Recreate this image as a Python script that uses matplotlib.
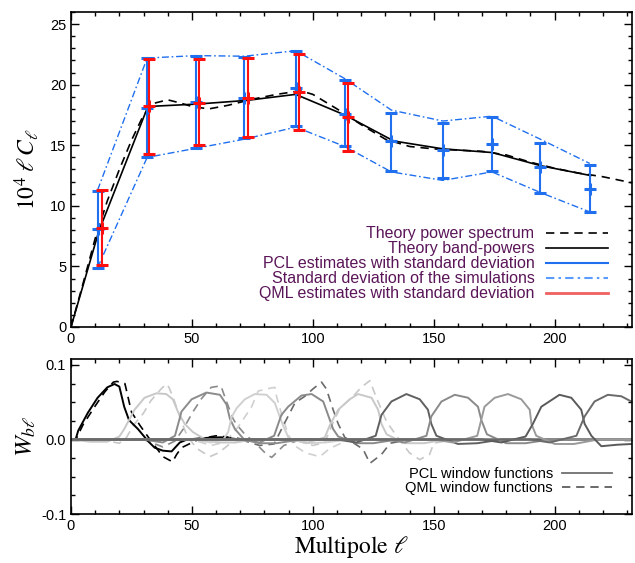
import numpy as np
import matplotlib
matplotlib.use("Agg")
import matplotlib.pyplot as plt
from matplotlib.ticker import MultipleLocator
from matplotlib.lines import Line2D

plt.rcParams['font.family'] = ['Liberation Sans', 'DejaVu Sans']
plt.rcParams['mathtext.fontset'] = 'stix'

# ---- top panel data ----
# theory power spectrum (dashed)
th_ell = [0, 5, 10, 15, 20, 25, 30, 35, 40, 45, 50, 57, 65, 75, 85, 95, 100, 110,
          120, 130, 140, 150, 160, 170, 180, 190, 200, 210, 220, 232]
th_cl = [0, 3.6, 7.3, 10.4, 13.0, 15.4, 17.5, 18.5, 18.75, 18.5, 18.2, 18.0, 18.3,
         18.8, 19.2, 19.5, 19.2, 18.0, 16.7, 15.5, 14.9, 14.7, 14.6, 14.5, 14.2,
         13.6, 13.1, 12.7, 12.4, 11.9]
# theory band-powers (solid)
bp_ell = [0, 11.5, 31.8, 52.2, 72.5, 92.9, 113.2, 133.5, 153.9, 174.2, 194.5, 214.9]
bp_cl = [0, 7.9, 18.2, 18.4, 18.7, 19.2, 17.5, 15.35, 14.7, 14.4, 13.3, 12.5]

# PCL estimates
pcl_ell = [11.0, 31.5, 51.7, 71.6, 93.0, 113.2, 132.5, 153.8, 174.1, 194.1, 214.5]
pcl_cl = [8.05, 18.1, 18.6, 18.9, 19.7, 17.6, 15.35, 14.6, 15.1, 13.2, 11.4]
pcl_lo = [4.9, 14.0, 14.8, 15.6, 16.6, 14.9, 12.9, 12.3, 12.9, 11.1, 9.5]
pcl_hi = [11.2, 22.2, 22.4, 22.3, 22.8, 20.4, 17.7, 16.8, 17.3, 15.2, 13.35]

# standard deviation of the simulations
sim_hi = [11.3, 22.2, 22.4, 22.35, 22.8, 20.5, 17.9, 17.0, 17.4, 15.5, 13.5]
sim_lo = [4.9, 14.0, 14.75, 15.5, 16.5, 14.9, 12.8, 12.1, 12.8, 11.1, 9.5]

# QML estimates
qml_ell = [12.7, 32.4, 53.0, 73.4, 94.2, 114.6]
qml_cl = [8.15, 18.2, 18.5, 18.9, 19.4, 17.35]
qml_lo = [5.1, 14.3, 15.0, 15.65, 16.3, 14.5]
qml_hi = [11.3, 22.1, 22.1, 22.2, 22.5, 20.1]

# ---- bottom panel data: window functions ----
pcl_win_ell = [
    [0, 2, 3, 7, 11, 15, 18, 20, 22, 24, 27.7, 31.8, 34.6, 38, 41.6, 45, 48, 55, 62, 70, 232],
    [0, 8, 15, 20, 22, 26.3, 30.4, 35.3, 39.4, 42.1, 44.2, 47, 50.4, 54.5, 60, 68, 75, 232],
    [0, 30, 38, 43, 45.7, 49.9, 56, 61.6, 64.3, 65.7, 67.8, 71.6, 78, 85, 95, 232],
    [0, 50, 58, 63, 65, 66.4, 68.5, 71.9, 76, 80.9, 84.3, 86.4, 87.7, 90, 97, 105, 115, 232],
    [0, 70, 78, 84, 85.7, 87, 89.8, 95.3, 99.5, 104.3, 106.3, 108.4, 110.5, 118, 125, 135, 232],
    [0, 90, 98, 105, 107, 110.5, 115.3, 118.7, 124.3, 127, 128.4, 130.5, 138, 146, 155, 232],
    [0, 110, 118, 126, 128.4, 132.5, 138.7, 144.2, 147.6, 149, 151.1, 160, 168, 178, 232],
    [0, 130, 138, 147, 149, 153.2, 158.7, 164.2, 168.3, 169.7, 172, 180, 188, 198, 232],
    [0, 150, 158, 168, 171, 175.2, 180.7, 186.2, 189.7, 190.4, 192.4, 200, 208, 218, 232],
    [0, 170, 178, 188, 191, 194.5, 202, 206.9, 211, 212.4, 215.2, 219.3, 226, 232],
    [0, 190, 198, 209, 212.4, 216.5, 222, 227.6, 231.7, 235],
]
pcl_win_w = [
    [0, 0.001, 0.012, 0.036, 0.056, 0.070, 0.0745, 0.071, 0.044, 0.026, 0.014, -0.002, -0.011, -0.015, -0.016, -0.004, 0.0, 0.002, 0.003, 0, 0],
    [0, -0.003, -0.003, 0.004, 0.014, 0.040, 0.056, 0.062, 0.061, 0.054, 0.0375, 0.021, 0.010, 0.002, -0.004, -0.004, 0, 0],
    [0, 0, -0.004, 0.005, 0.0375, 0.054, 0.063, 0.060, 0.047, 0.028, 0.014, 0.0, -0.005, -0.005, 0, 0],
    [0, 0, -0.004, 0.0, 0.01, 0.03, 0.042, 0.054, 0.061, 0.060, 0.049, 0.030, 0.019, 0.002, -0.005, -0.004, 0, 0],
    [0, 0, -0.004, 0.005, 0.021, 0.033, 0.044, 0.059, 0.061, 0.051, 0.033, 0.014, 0.004, -0.005, -0.005, 0, 0],
    [0, 0, -0.004, 0.003, 0.019, 0.040, 0.054, 0.061, 0.056, 0.040, 0.021, 0.007, -0.005, -0.005, 0, 0],
    [0, 0, -0.004, 0.005, 0.033, 0.051, 0.061, 0.054, 0.040, 0.021, 0.005, -0.006, -0.005, 0, 0],
    [0, 0, -0.004, 0.005, 0.031, 0.051, 0.060, 0.056, 0.044, 0.026, 0.007, -0.005, -0.005, 0, 0],
    [0, 0, -0.004, 0.005, 0.044, 0.056, 0.061, 0.054, 0.040, 0.021, 0.005, -0.006, -0.006, 0, 0],
    [0, 0, -0.004, 0.004, 0.021, 0.044, 0.060, 0.056, 0.040, 0.021, 0.005, -0.009, -0.007, -0.006],
    [0, 0, -0.004, 0.005, 0.031, 0.051, 0.060, 0.058, 0.051, 0.045],
]
pcl_win_col = ['#000000', '#c8c8c8', '#8c8c8c', '#d0d0d0', '#8a8a8a', '#c8c8c8',
               '#606060', '#8a8a8a', '#9a9a9a', '#5a5a5a', '#6a6a6a']

qml_win_ell = [
    [0, 2, 5, 10, 14, 17.5, 19, 22.3, 25, 28.5, 32, 38, 42, 43.7, 45.7, 53.3, 60, 65.7, 72, 232],
    [0, 12, 20, 23, 25.8, 29.9, 33, 37.3, 39.4, 40.5, 42.3, 45.7, 48, 52, 57.4, 61, 66, 75, 232],
    [0, 30, 38, 43, 46.4, 50.5, 54, 58, 62, 64.3, 67, 68.5, 71.9, 76, 80.9, 83, 88, 95, 232],
    [0, 50, 58, 63, 67, 70, 74.7, 77.4, 81, 84.3, 85, 87, 89.8, 91.9, 97, 102.9, 107, 115, 232],
    [0, 70, 78, 84, 88, 92.6, 96.7, 100.1, 103.6, 105.6, 107, 108.4, 110.5, 113.2, 117, 120.8, 123.6, 128.4, 132, 140, 232],
    [0, 92, 100, 105, 108, 111.2, 116.7, 120, 123.6, 126.3, 130.5, 134.6, 140, 144.2, 148.3, 150, 158, 232],
]
qml_win_w = [
    [0, 0, 0.02, 0.045, 0.064, 0.077, 0.078, 0.075, 0.037, 0.019, 0.003, -0.023, -0.030, -0.020, -0.011, 0.001, 0.005, 0.003, 0, 0],
    [0, 0, -0.005, 0.003, 0.019, 0.035, 0.052, 0.068, 0.0745, 0.07, 0.056, 0.024, 0.005, -0.012, -0.023, -0.018, -0.005, 0, 0],
    [0, 0, -0.01, -0.002, 0.014, 0.0375, 0.055, 0.070, 0.072, 0.051, 0.028, 0.020, 0.007, -0.004, -0.020, -0.024, -0.008, 0, 0],
    [0, 0, -0.008, -0.004, 0.008, 0.021, 0.044, 0.065, 0.068, 0.070, 0.058, 0.035, 0.007, -0.007, -0.018, -0.023, -0.012, 0, 0],
    [0, 0, -0.008, -0.006, 0.02, 0.049, 0.058, 0.068, 0.077, 0.068, 0.054, 0.040, 0.021, 0.003, -0.005, -0.013, -0.032, -0.020, -0.005, 0, 0],
    [0, 0, -0.008, -0.004, 0.02, 0.042, 0.058, 0.070, 0.079, 0.056, 0.024, 0.005, -0.018, -0.027, -0.020, -0.005, 0, 0],
]
qml_win_col = ['#000000', '#c8c8c8', '#8a8a8a', '#d0d0d0', '#6a6a6a', '#c8c8c8']

blue = '#1f6fef'
red = '#ff1010'
purple = '#5a1558'

fig = plt.figure(figsize=(6.35, 5.63), dpi=100)
ax1 = fig.add_axes([0.1118, 0.4192, 0.8835, 0.5595])
ax2 = fig.add_axes([0.1118, 0.0870, 0.8835, 0.2753])

# top panel
ax1.plot(th_ell, th_cl, color='k', lw=1.2, dashes=(5, 3.5))
ax1.plot(bp_ell, bp_cl, color='k', lw=1.2)
pcl_err = [np.array(pcl_cl) - np.array(pcl_lo), np.array(pcl_hi) - np.array(pcl_cl)]
ax1.errorbar(pcl_ell, pcl_cl, yerr=pcl_err, fmt='+', color=blue, ms=9, mew=2.2,
             elinewidth=1.5, capsize=4.2, capthick=1.4)
ax1.plot(pcl_ell, sim_hi, color=blue, lw=1.0, dashes=(5, 2, 1.2, 2))
ax1.plot(pcl_ell, sim_lo, color=blue, lw=1.0, dashes=(5, 2, 1.2, 2))
qml_err = [np.array(qml_cl) - np.array(qml_lo), np.array(qml_hi) - np.array(qml_cl)]
ax1.errorbar(qml_ell, qml_cl, yerr=qml_err, fmt='+', color=red, ms=9, mew=2.2,
             elinewidth=1.5, capsize=4.5, capthick=1.4)

ax1.set_xlim(0, 232)
ax1.set_ylim(0, 26)
ax1.set_ylabel(r'$10^4\;\ell\, C_\ell$', fontsize=17, labelpad=6)

h1 = [Line2D([], [], color='k', lw=1.2, dashes=(5, 3.5)),
      Line2D([], [], color='k', lw=1.2),
      Line2D([], [], color=blue, lw=1.5),
      Line2D([], [], color='#5a9bff', lw=1.5, dashes=(4, 2, 1.2, 2)),
      Line2D([], [], color='#f06060', lw=2)]
l1 = ['Theory power spectrum', 'Theory band-powers',
      'PCL estimates with standard deviation',
      'Standard deviation of the simulations',
      'QML estimates with standard deviation']
ax1.legend(h1, l1, loc='upper right', bbox_to_anchor=(0.957, 0.32),
           frameon=False, markerfirst=False, fontsize=11.5, labelcolor=purple,
           handlelength=3.9, handletextpad=0.7, labelspacing=0.0,
           borderpad=0, borderaxespad=0)

# bottom panel
for ell, w, c in zip(qml_win_ell, qml_win_w, qml_win_col):
    ax2.plot(ell, w, color=c, lw=1.2, dashes=(5, 3.5))
for ell, w, c in zip(pcl_win_ell, pcl_win_w, pcl_win_col):
    ax2.plot(ell, w, color=c, lw=1.4)
ax2.set_xlim(0, 232)
ax2.set_ylim(-0.1, 0.108)
ax2.set_yticks([-0.1, 0.0, 0.1])
ax2.set_yticklabels(['-0.1', '0.0', '0.1'])
ax2.set_xlabel(r'Multipole $\ell$', fontsize=17, family='STIXGeneral', labelpad=1)
ax2.set_ylabel(r'$W_{b\ell}$', fontsize=18, labelpad=2)
h2 = [Line2D([], [], color='#707070', lw=1.3),
      Line2D([], [], color='#505050', lw=1.2, dashes=(5, 3.5))]
ax2.legend(h2, ['PCL window functions', 'QML window functions'], loc='upper right',
           bbox_to_anchor=(0.964, 0.305), frameon=False, markerfirst=False,
           fontsize=10.5, handlelength=3.4, handletextpad=0.65, labelspacing=0.05,
           borderpad=0, borderaxespad=0)

for ax in (ax1, ax2):
    ax.xaxis.set_major_locator(MultipleLocator(50))
    ax.xaxis.set_minor_locator(MultipleLocator(10))
    ax.tick_params(which='both', direction='in', top=True, right=True, labelsize=10.5)
    ax.tick_params(which='major', length=6, width=1)
    ax.tick_params(which='minor', length=3, width=1)
    for s in ax.spines.values():
        s.set_linewidth(1.2)
ax1.yaxis.set_major_locator(MultipleLocator(5))
ax1.yaxis.set_minor_locator(MultipleLocator(1))
ax2.yaxis.set_minor_locator(MultipleLocator(0.025))

fig.savefig('out.png', dpi=100)
